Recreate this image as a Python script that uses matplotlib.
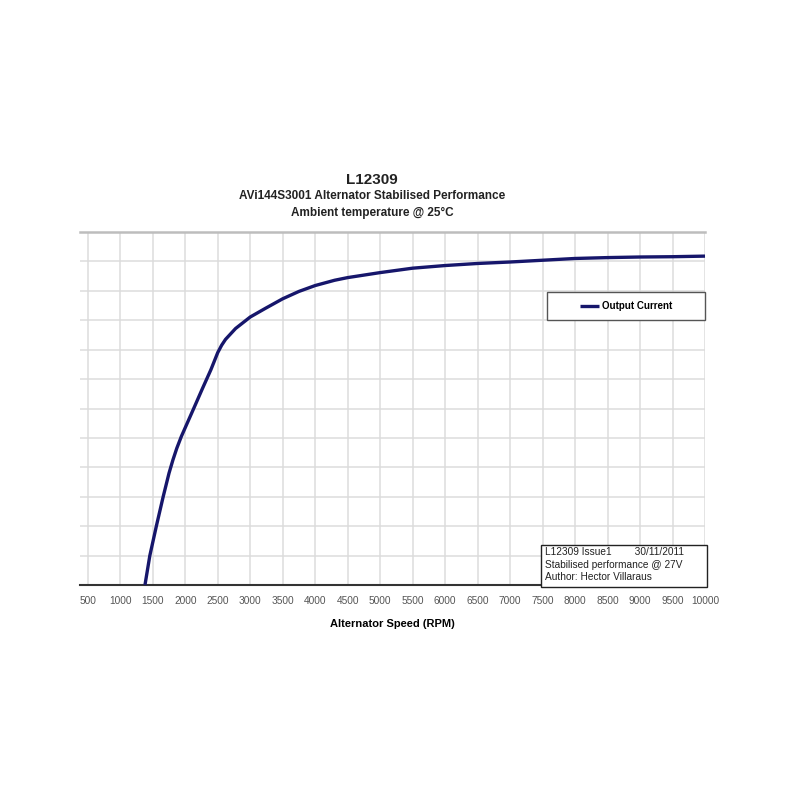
"""Recreate the L12309 alternator stabilised performance chart."""
import matplotlib
matplotlib.use("Agg")
import matplotlib.pyplot as plt
from matplotlib.patches import Rectangle

plt.rcParams["font.family"] = ["Liberation Sans", "DejaVu Sans"]

# speed (RPM) vs output current (A) (10 A per gridline)
RPM = [1380, 1455, 1555, 1660, 1750, 1810, 1870, 1940, 2000, 2140, 2265,
       2395, 2500, 2560, 2620, 2775, 3000, 3230, 3500, 3750, 4000, 4300,
       4500, 5000, 5500, 6000, 6500, 7000, 7500, 8000, 8500, 9000, 9500,
       10000]
CURRENT = [0, 10, 20, 30, 38, 42.5, 46.5, 50.5, 53.5, 60.5, 66.8,
           73.2, 79.0, 81.5, 83.5, 87.2, 91.1, 94.0, 97.3, 99.8, 101.8,
           103.6, 104.5, 106.2, 107.7, 108.6, 109.3, 109.8, 110.4, 111.0,
           111.3, 111.5, 111.6, 111.8]
XTICKS = list(range(500, 10001, 500))
YTICKS = list(range(0, 121, 10))

TITLE = "L12309"
SUBTITLE_1 = "AVi144S3001 Alternator Stabilised Performance"
SUBTITLE_2 = "Ambient temperature @ 25\u00b0C"
NOTE_LINES = ["L12309 Issue1        30/11/2011",
              "Stabilised performance @ 27V",
              "Author: Hector Villaraus"]

LINE_COLOR = "#16166b"
GRID_COLOR = "#dcdcdc"

fig = plt.figure(figsize=(8, 8), dpi=100)
ax = fig.add_axes([0.10, 0.26875, 0.78125, 0.44125])

ax.plot(RPM, CURRENT, color=LINE_COLOR, lw=2.4, label="Output Current",
        solid_capstyle="butt", solid_joinstyle="round", zorder=3,
        clip_on=False)

ax.set_xlim(380, 10000)
ax.set_ylim(0, 120)
ax.set_xticks(XTICKS)
ax.set_xticklabels([str(t) for t in XTICKS], fontsize=7.3, color="#555555")
ax.set_yticks(YTICKS)
ax.tick_params(axis="y", left=False, labelleft=False)
ax.tick_params(axis="x", length=0, pad=8)
ax.grid(True, color=GRID_COLOR, lw=1.1)
ax.set_axisbelow(True)

for side in ("left", "right"):
    ax.spines[side].set_visible(False)
ax.spines["top"].set_color("#bdbdbd")
ax.spines["top"].set_linewidth(1.8)
ax.spines["bottom"].set_color("#333333")
ax.spines["bottom"].set_linewidth(1.5)

ax.set_xlabel("Alternator Speed (RPM)", fontsize=8, fontweight="bold",
              labelpad=9)

fig.text(0.465, 0.775, TITLE, ha="center", va="center", fontsize=11,
         fontweight="bold", color="#222222")
fig.text(0.465, 0.755, SUBTITLE_1, ha="center", va="center", fontsize=8.5,
         fontweight="bold", color="#222222")
fig.text(0.465, 0.734, SUBTITLE_2, ha="center", va="center", fontsize=8.5,
         fontweight="bold", color="#222222")

# legend: frame drawn separately so the entry sits centred in a wide box
legend_box = Rectangle((0.747, 0.75), 0.253, 0.08, transform=ax.transAxes,
                       facecolor="white", edgecolor="#555555", lw=1.0,
                       zorder=4, clip_on=False)
ax.add_patch(legend_box)
leg = ax.legend(loc="center", bbox_to_anchor=(0.874, 0.79), frameon=False,
                handlelength=2.0, handletextpad=0.3,
                prop={"weight": "bold", "size": 7})
leg.set_zorder(5)

# note box in the lower right corner
note = Rectangle((0.7375, -0.005), 0.265, 0.118, transform=ax.transAxes,
                 facecolor="white", edgecolor="#222222", lw=1.0, zorder=4,
                 clip_on=False)
ax.add_patch(note)
ax.text(0.744, 0.107, "\n".join(NOTE_LINES), transform=ax.transAxes,
        ha="left", va="top", fontsize=7.3, linespacing=1.3, color="#222222",
        zorder=5)

fig.savefig("out.png", dpi=100, facecolor="white")
